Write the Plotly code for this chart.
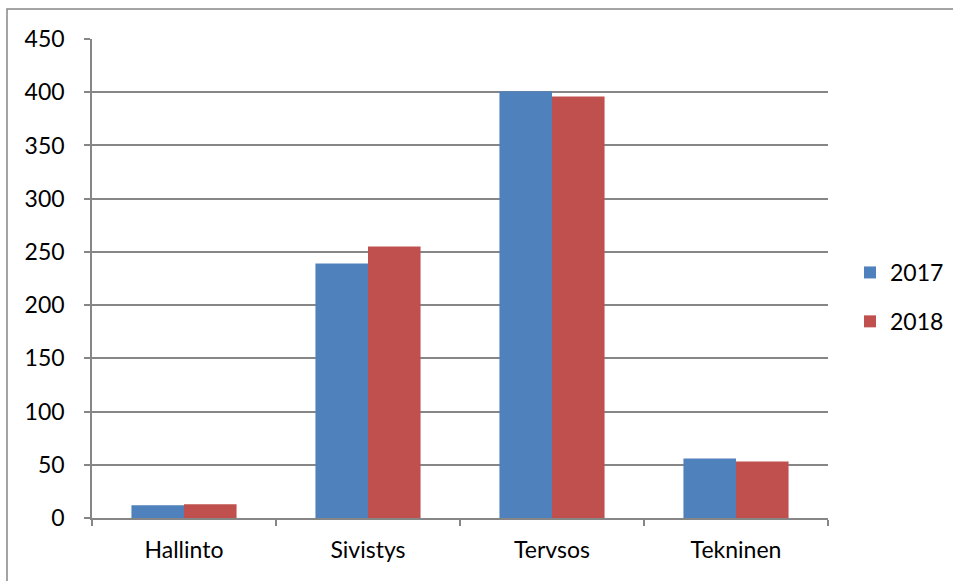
import plotly.graph_objects as go

categories = ["Hallinto", "Sivistys", "Tervsos", "Tekninen"]
values_2017 = [12, 239, 401, 56]
values_2018 = [13, 255, 396, 53]
series_names = ["2017", "2018"]
colors = ["#4F81BD", "#C0504D"]
y_ticks = [0, 50, 100, 150, 200, 250, 300, 350, 400, 450]

FONT = "Lato, 'Liberation Sans', sans-serif"
GRID = "#868686"

fig = go.Figure()
for name, vals, col in zip(series_names, [values_2017, values_2018], colors):
    fig.add_trace(go.Bar(
        x=categories, y=vals, name=name, legendgroup=name,
        marker=dict(color=col, line=dict(width=0)),
    ))

W, H = 953, 581
L, R, T, B = 92, 125, 39, 63
pw, ph = W - L - R, H - T - B

# outer chart frame (runs off the right and bottom edges)
fig.add_shape(
    type="rect", xref="paper", yref="paper",
    x0=(7 - L) / pw, x1=(W + 20 - L) / pw,
    y0=-(B + 20) / ph, y1=(H - B - 9) / ph,
    line=dict(color=GRID, width=1.5), fillcolor="rgba(0,0,0,0)",
    layer="below",
)

fig.update_layout(
    width=W, height=H,
    margin=dict(l=L, r=R, t=T, b=B, autoexpand=False),
    paper_bgcolor="white", plot_bgcolor="white",
    barmode="group", bargap=1.5 / 3.5, bargroupgap=0,
    font=dict(family=FONT, size=23, color="#000000"),
    showlegend=True,
    legend=dict(
        x=(850 - L) / pw, xanchor="left",
        y=(H - B - 297) / ph, yanchor="middle",
        tracegroupgap=16, itemwidth=30,
        font=dict(family=FONT, size=23),
        bgcolor="rgba(0,0,0,0)",
    ),
    xaxis=dict(
        type="category", tickson="boundaries",
        ticks="outside", ticklen=6, tickcolor=GRID, tickwidth=1.5,
        showline=True, linecolor=GRID, linewidth=1.5,
        showgrid=False, ticklabelstandoff=11,
    ),
    yaxis=dict(
        range=[0, 450], tickvals=y_ticks,
        ticks="outside", ticklen=6, tickcolor=GRID, tickwidth=1.5,
        showline=True, linecolor=GRID, linewidth=1.5,
        showgrid=True, gridcolor=GRID, gridwidth=1.5,
        zeroline=False, ticklabelstandoff=15,
    ),
)

fig.write_html("out.html")
